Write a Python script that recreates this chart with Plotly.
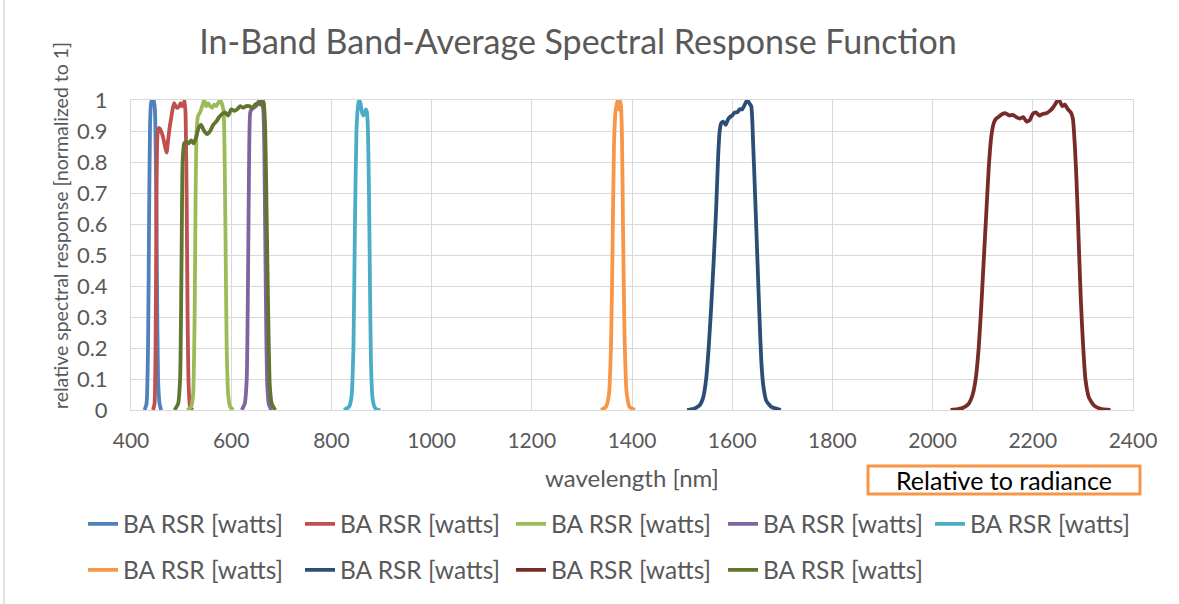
import plotly.graph_objects as go

# ---- data (wavelength nm, normalized response) ----
b1_wl = [427, 431, 434, 436, 438, 440, 442, 444, 446, 448, 450, 452, 454, 457, 460]
b1_rs = [0, 0.02, 0.2, 0.6, 0.92, 0.99, 1.0, 0.99, 1.0, 0.96, 0.75, 0.4, 0.1, 0.02, 0]

b2_wl = [444, 447, 449, 451, 453, 456, 460, 464, 468, 471, 474, 477, 480, 483, 486,
         489, 492, 496, 499, 502, 505, 507, 509, 511, 513, 515, 518, 523]
b2_rs = [0, 0.02, 0.2, 0.7, 0.89, 0.91, 0.9, 0.88, 0.85, 0.83, 0.87, 0.91, 0.94, 0.97, 0.99,
         0.98, 0.975, 0.98, 0.99, 0.98, 0.985, 1.0, 0.95, 0.7, 0.3, 0.08, 0.01, 0]

b3_wl = [512, 520, 524, 527, 529, 531, 534, 538, 542, 546, 550, 554, 558, 562, 566,
         570, 574, 578, 582, 585, 587, 589, 591, 594, 598, 604]
b3_rs = [0, 0.01, 0.05, 0.3, 0.7, 0.9, 0.95, 0.96, 0.98, 1.0, 0.98, 0.99, 0.98, 0.975, 0.985,
         0.98, 0.99, 1.0, 0.985, 0.96, 0.8, 0.5, 0.2, 0.05, 0.01, 0]

b4_wl = [621, 627, 631, 634, 636, 638, 641, 645, 649, 653, 657, 661, 664, 666, 668,
         670, 672, 675, 680]
b4_rs = [0, 0.02, 0.1, 0.5, 0.85, 0.96, 0.97, 0.975, 0.98, 0.99, 1.0, 0.99, 0.97, 0.85, 0.55,
         0.25, 0.08, 0.02, 0]

b5_wl = [825, 835, 840, 844, 847, 850, 853, 855, 858, 861, 864, 867, 869, 871, 873,
         875, 877, 879, 882, 886, 892, 898]
b5_rs = [0, 0.01, 0.04, 0.2, 0.6, 0.9, 0.98, 1.0, 0.99, 0.96, 0.95, 0.96, 0.97, 0.96, 0.9,
         0.7, 0.4, 0.15, 0.04, 0.01, 0, 0]

b9_wl = [1338, 1348, 1354, 1358, 1361, 1364, 1367, 1370, 1372, 1374, 1376, 1378, 1380,
         1382, 1385, 1389, 1395, 1406]
b9_rs = [0, 0.01, 0.05, 0.2, 0.5, 0.85, 0.96, 0.99, 1.0, 0.97, 1.0, 0.98, 0.88,
         0.6, 0.25, 0.06, 0.01, 0]

b6_wl = [1510, 1525, 1535, 1542, 1548, 1553, 1558, 1563, 1568, 1572, 1575, 1578, 1582,
         1587, 1591, 1595, 1600, 1605, 1610, 1615, 1620, 1625, 1630, 1634, 1638, 1642,
         1646, 1650, 1654, 1658, 1662, 1668, 1678, 1697]
b6_rs = [0, 0.005, 0.015, 0.04, 0.1, 0.2, 0.33, 0.48, 0.65, 0.82, 0.9, 0.925, 0.93,
         0.92, 0.935, 0.945, 0.95, 0.96, 0.96, 0.97, 0.97, 0.985, 1.0, 0.99, 0.98, 0.85,
         0.68, 0.5, 0.32, 0.16, 0.08, 0.03, 0.01, 0]

b7_wl = [2036, 2050, 2062, 2072, 2080, 2086, 2092, 2097, 2102, 2107, 2112, 2117, 2122,
         2127, 2132, 2139, 2146, 2153, 2160, 2167, 2174, 2181, 2188, 2194, 2200, 2206,
         2213, 2220, 2227, 2234, 2240, 2246, 2250, 2254, 2259, 2264, 2270, 2276, 2280,
         2284, 2287, 2290, 2293, 2296, 2300, 2305, 2312, 2322, 2335, 2355]
b7_rs = [0, 0.003, 0.008, 0.02, 0.05, 0.1, 0.2, 0.33, 0.48, 0.63, 0.78, 0.88, 0.925,
         0.94, 0.946, 0.955, 0.957, 0.95, 0.952, 0.945, 0.94, 0.945, 0.93, 0.935, 0.955,
         0.96, 0.95, 0.955, 0.957, 0.965, 0.975, 0.99, 1.0, 0.995, 0.98, 0.985, 0.97, 0.96,
         0.94, 0.85, 0.75, 0.62, 0.48, 0.35, 0.22, 0.1, 0.04, 0.015, 0.004, 0]

b8_wl = [487, 494, 498, 501, 503, 506, 510, 515, 520, 525, 530, 535, 540, 546, 552,
         558, 564, 570, 576, 582, 588, 594, 600, 606, 612, 618, 624, 630, 636, 642,
         648, 654, 658, 662, 665, 668, 671, 674, 677, 681, 688]
b8_rs = [0, 0.02, 0.1, 0.5, 0.8, 0.86, 0.865, 0.86, 0.87, 0.86, 0.88, 0.91, 0.92, 0.9, 0.89,
         0.9, 0.92, 0.93, 0.945, 0.955, 0.96, 0.95, 0.97, 0.965, 0.97, 0.98, 0.975, 0.98,
         0.98, 0.975, 0.985, 0.99, 0.985, 1.0, 0.99, 0.9, 0.6, 0.3, 0.08, 0.02, 0]

series_name = "BA RSR [watts]"
bands = [(b1_wl, b1_rs), (b2_wl, b2_rs), (b3_wl, b3_rs), (b4_wl, b4_rs), (b5_wl, b5_rs),
         (b9_wl, b9_rs), (b6_wl, b6_rs), (b7_wl, b7_rs), (b8_wl, b8_rs)]
colors = ["#4F81BD", "#C0504D", "#9BBB59", "#8064A2", "#4BACC6",
          "#F79646", "#2C4D75", "#772C2A", "#5F7530"]

x_ticks = list(range(400, 2401, 200))
y_ticks = [round(i * 0.1, 1) for i in range(11)]
y_labels = ["0", "0.1", "0.2", "0.3", "0.4", "0.5", "0.6", "0.7", "0.8", "0.9", "1"]

FONT = "Lato"
GREY = "#595959"
GRID = "#D9D9D9"

W, H = 1179, 604
L, R, T, B = 131, 46, 100, 194
pw = W - L - R
ph = H - T - B

# legend entry text positions (px) in the reference: 5 per row, 2 rows
legend_text_x = [123, 340, 551, 763, 970]
legend_row_y = [524, 570]


def px2paper_x(px):
    return (px - L) / pw


def px2paper_y(py):
    return (H - B - py) / ph


fig = go.Figure()
legend_layouts = {}
for i, ((wl, rs), c) in enumerate(zip(bands, colors)):
    key = "legend" if i == 0 else f"legend{i + 1}"
    fig.add_trace(go.Scatter(
        x=wl, y=rs, mode="lines", name=series_name,
        line=dict(color=c, width=3.8, shape="spline", smoothing=0.5),
        legend=key,
    ))
    col, row = i % 5, i // 5
    legend_layouts[key] = dict(
        orientation="h", xref="container", yref="container",
        x=(legend_text_x[col] - 40) / W, xanchor="left",
        y=1 - legend_row_y[row] / H, yanchor="middle",
        font=dict(size=24.5, color=GREY, family=FONT),
        bgcolor="rgba(0,0,0,0)")

fig.update_layout(
    width=W, height=H,
    margin=dict(l=L, r=R, t=T, b=B),
    paper_bgcolor="white", plot_bgcolor="white",
    font=dict(family=FONT, color=GREY, size=19),
    title=dict(text="In-Band Band-Average Spectral Response Function",
               x=578 / W, xanchor="center", y=1 - 42 / H, yanchor="middle",
               font=dict(family=FONT, size=34, color=GREY)),
    xaxis=dict(range=[400, 2400], tickvals=x_ticks, showgrid=True, gridcolor=GRID,
               gridwidth=1, showline=True, linecolor=GRID, mirror=True, zeroline=False,
               ticks="", tickfont=dict(size=21, color=GREY), ticklabelstandoff=12,
               automargin=False,
               title=dict(text="wavelength [nm]", font=dict(size=24, color=GREY), standoff=18)),
    yaxis=dict(range=[0, 1], tickvals=y_ticks, ticktext=y_labels, showgrid=True,
               gridcolor=GRID, gridwidth=1, showline=True, linecolor=GRID, mirror=True,
               zeroline=False, ticks="", tickfont=dict(size=22, color=GREY),
               ticklabelstandoff=18, automargin=False),
    showlegend=True,
    **legend_layouts,
)

# y-axis title as annotation (placed as in reference)
fig.add_annotation(text="relative spectral response [normalized to 1]", textangle=-90,
                   xref="paper", yref="paper", x=px2paper_x(60), y=px2paper_y(226),
                   xanchor="center", yanchor="middle",
                   showarrow=False, font=dict(size=19.5, color=GREY, family=FONT))

# "Relative to radiance" box
fig.add_shape(type="rect", xref="paper", yref="paper",
              x0=px2paper_x(868), x1=px2paper_x(1140), y0=px2paper_y(494), y1=px2paper_y(466),
              line=dict(color="#F79646", width=3), fillcolor="white", layer="above")
fig.add_annotation(text="Relative to radiance", xref="paper", yref="paper",
                   x=px2paper_x(1004), y=px2paper_y(480), xanchor="center", yanchor="middle",
                   showarrow=False, font=dict(size=25, color="black", family=FONT))

# chart outer border (left edge visible)
fig.add_shape(type="line", xref="paper", yref="paper",
              x0=px2paper_x(4), x1=px2paper_x(4), y0=px2paper_y(0), y1=px2paper_y(604),
              line=dict(color=GRID, width=1.5))

fig.write_html("out.html")
